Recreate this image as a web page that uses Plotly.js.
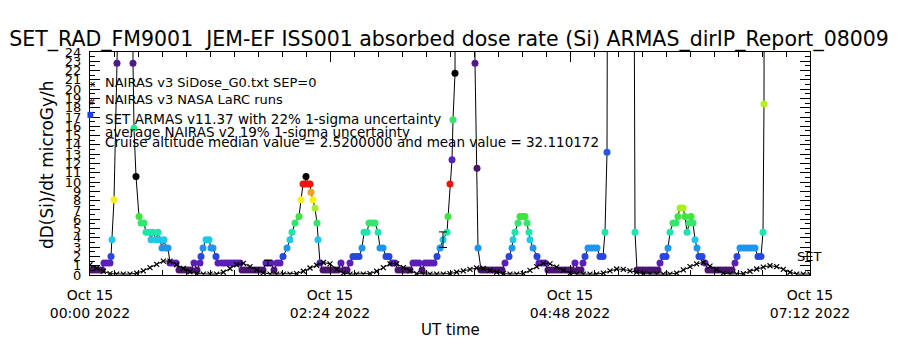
<!DOCTYPE html>
<html><head><meta charset="utf-8">
<script src="https://cdn.plot.ly/plotly-3.0.1.min.js"></script>
<style>html,body{margin:0;padding:0;background:#fff}#chart{width:900px;height:350px}</style>
</head><body><div id="chart"></div>
<script>
// ARMAS dose rate samples: minutes after 2022-10-15 00:00 UT, dose rate (microGy/h)
const armasMinutes = [0,1.8,3.6,5.4,7.2,8.4,10.2,12,12.6,13.2,14.4,16.2,17.1,24.9,25.8,26.4,27.6,29.4,30.6,32.4,33.6,35.4,36.6,37.8,39.6,40.8,42,43.2,44.4,45.6,46.8,48,49.8,51.6,53.4,55.2,57,58.8,60.6,62.4,64.2,66,66.6,67.8,69.6,71.4,72.6,73.8,75.6,76.8,79.2,81,82.8,84.6,86.4,88.2,90,91.2,93,94.8,96.6,98.4,100.2,102,103.8,105.6,106.8,108.6,110.4,112.2,114,115.8,118.2,120,121.2,123,125.4,126.6,127.8,129,129.6,130.8,132,132.6,133.8,135,136.2,136.8,138,139.8,141.6,143.4,145.2,147,148.8,150.6,152.4,154.2,156,157.8,159.6,161.4,163.2,164.4,166.2,167.4,169.2,171,172.8,174,175.8,177.6,179.4,181.2,183,184.8,186.6,188.4,190.2,192,193.8,195.6,197.4,199.2,201,202.8,204.6,206.4,208.2,210,211.8,214.2,214.8,216,217.2,217.8,219,220.2,229.8,231,232.2,232.8,234.6,236.4,238.2,240,241.8,243.6,245.4,247.2,249,251.4,253.2,253.8,255,256.8,258,259.8,261,262.2,263.4,264,265.8,268.2,269.4,271.2,273,274.8,276.6,278.4,280.2,282,283.8,285.6,287.4,289.2,291,292.8,294.6,295.8,297,298.8,300.6,302.4,304.2,306,307.8,309,310.2,311.4,325.2,327,328.2,330,331.8,333.6,335.4,337.2,339,340.8,342,343.8,345.6,346.8,348,349.8,351.6,352.8,354,355.8,357,358.2,359.4,360.6,361.8,363,364.2,365.4,367.2,369,370.8,372.6,374.4,376.2,378,379.8,381.6,383.4,385.2,387,388.2,390,391.8,393.6,395.4,397.2,399,400.8,402.6,403.8,404.4,405];
const armasDose = [0.54,0.54,0.54,0.54,0.54,1.3,1.3,1.3,2.0,3.8,8.1,22.8,100,100,22.8,15.8,10.6,6.3,5.6,5.6,4.6,4.6,3.8,4.6,3.8,4.6,3.8,2.9,3.8,2.9,2.9,1.3,1.3,1.3,0.54,0.54,0.54,0.54,0.54,1.3,0.54,1.3,2.0,2.9,3.8,3.8,2.9,2.9,2.0,1.3,1.3,1.3,1.3,1.3,1.3,1.3,1.3,0.54,0.54,0.54,0.54,0.54,0.54,0.54,0.54,1.3,1.3,1.3,0.54,1.3,1.3,2.0,2.9,3.8,4.6,5.6,6.3,8.1,9.8,9.8,10.6,9.8,9.8,8.9,8.1,7.2,5.6,3.8,1.3,0.54,0.54,0.54,0.54,0.54,0.54,1.3,0.54,0.54,1.3,2.0,2.0,2.0,2.9,4.6,4.6,5.6,5.6,5.6,4.6,2.9,2.9,2.0,2.0,1.3,1.3,0.54,0.54,0.54,0.54,0.54,1.3,1.3,1.3,0.54,1.3,1.3,1.3,1.3,2.0,2.9,3.8,4.6,6.3,9.8,12.4,16.7,21.7,100,100,22.8,11.5,2.9,0.54,0.54,0.54,0.54,0.54,0.54,0.54,0.54,1.3,2.0,2.9,3.8,4.6,5.6,6.3,6.3,6.3,5.6,4.6,3.8,2.9,2.0,1.3,1.3,1.3,0.54,0.54,0.54,0.54,0.54,0.54,0.54,0.54,0.54,1.3,0.54,0.54,1.3,2.0,2.9,2.9,2.9,2.9,2.0,2.0,4.6,13.2,100,100,4.6,0.54,0.54,0.54,0.54,0.54,0.54,0.54,0.54,1.3,2.0,2.0,2.9,4.6,5.6,5.6,6.3,7.2,7.2,6.3,4.6,5.6,6.3,5.6,3.8,2.9,2.0,2.0,1.3,0.54,0.54,0.54,0.54,0.54,0.54,0.54,0.54,0.54,1.3,2.0,2.9,2.9,2.9,2.9,2.9,2.9,2.0,2.0,4.6,18.4,100];

// NAIRAS v3 model (SiDose_G0, SEP=0)
const nairasMinutes = [0,4,8,12,16,20,24,28,32,36,40,44,48,52,56,60,64,68,72,76,80,84,88,92,96,100,104,108,112,116,120,124,128,132,136,140,144,148,152,156,160,164,168,172,176,180,184,188,192,196,200,204,208,212,216,220,224,228,232,236,240,244,248,252,256,260,264,268,272,276,280,284,288,292,296,300,304,308,312,316,320,324,328,332,336,340,344,348,352,356,360,364,368,372,376,380,384,388,392,396,400,404,408,412,416,420,424,428,432];
const nairasDose = [1.1,0.75,0.4,0.15,0.1,0.1,0.1,0.2,0.45,0.8,1.15,1.5,1.5,1.1,0.7,0.35,0.15,0.1,0.1,0.1,0.3,0.7,1.1,1.25,0.9,0.55,0.25,0.1,0.1,0.1,0.1,0.15,0.4,0.75,1.05,1.35,1.2,0.6,0.2,0.1,0.1,0.1,0.15,0.4,0.8,1.2,1.2,0.8,0.45,0.15,0.1,0.1,0.1,0.1,0.15,0.3,0.45,0.6,0.75,0.7,0.5,0.3,0.15,0.1,0.1,0.15,0.5,0.9,1.25,1.2,0.85,0.5,0.2,0.1,0.1,0.1,0.1,0.2,0.45,0.65,0.6,0.45,0.3,0.15,0.1,0.1,0.1,0.1,0.2,0.55,0.9,1.2,1.35,0.95,0.55,0.2,0.1,0.1,0.15,0.4,0.65,0.85,1.0,0.9,0.6,0.3,0.1,0.1,0.1];

// ARMAS samples drawn with their 22% 1-sigma bar
const errMinutes = [106.8, 211.8];
const errDose = [1.3, 3.8];

const tickMinutes = [0, 144, 288, 432];
const tickLabels = ['Oct 15<br>00:00 2022', 'Oct 15<br>02:24 2022', 'Oct 15<br>04:48 2022', 'Oct 15<br>07:12 2022'];

// rainbow colour table, wrapping every 11 units
const cstops = [[0,'#1a0628'],[0.5,'#4a166c'],[1.3,'#5a1eb9'],[2.0,'#2846e0'],[2.9,'#1e96f0'],[3.8,'#1ec8e6'],[4.6,'#1ee6aa'],[5.6,'#32e66e'],[6.3,'#3ce63c'],[7.2,'#a5f01e'],[8.1,'#f5f01e'],[8.9,'#f5a01e'],[9.8,'#f0140a'],[10.3,'#780000'],[10.6,'#000000'],[11,'#000000']];
function hx(h){return [parseInt(h.substr(1,2),16),parseInt(h.substr(3,2),16),parseInt(h.substr(5,2),16)];}
function doseColor(v){
  const m = v % 11;
  for (let i=0;i<cstops.length-1;i++){
    const a=cstops[i], b=cstops[i+1];
    if (m>=a[0] && m<=b[0]){
      const f=(m-a[0])/(b[0]-a[0]); const ca=hx(a[1]), cb=hx(b[1]);
      return 'rgb('+ca.map((c,k)=>Math.round(c+(cb[k]-c)*f)).join(',')+')';
    }
  }
  return '#000';
}

const armas = {x: armasMinutes, y: armasDose, type:'scatter', mode:'lines+markers',
  line:{color:'#000', width:1}, marker:{size:7, color: armasDose.map(doseColor), line:{width:0}}, hoverinfo:'skip'};
const nairas = {x: nairasMinutes, y: nairasDose, type:'scatter', mode:'lines+markers',
  line:{color:'#000', width:1}, marker:{symbol:'x-thin', size:5, line:{width:1.2, color:'#000'}, color:'#000'}, hoverinfo:'skip'};
const errs = {x: errMinutes, y: errDose, type:'scatter', mode:'markers', marker:{size:1, opacity:0},
  error_y:{type:'percent', value:22, color:'#000', thickness:1, width:4}, hoverinfo:'skip'};

const F = 'DejaVu Sans';
const axisCommon = {showline:true, linecolor:'#000', linewidth:1, mirror:'ticks', showgrid:false, zeroline:false,
  ticks:'inside', ticklen:10, tickwidth:1, tickcolor:'#000'};
const layout = {
  width:900, height:350,
  margin:{l:90, r:90, t:52, b:75, pad:0},
  paper_bgcolor:'#fff', plot_bgcolor:'#fff', showlegend:false,
  font:{family:F, color:'#000', size:13},
  title:{text:'SET_RAD_FM9001\u00a0 JEM-EF ISS001 absorbed dose rate (Si) ARMAS_dirIP_Report_08009',
    x:0.499, xanchor:'center', y:1-39/350, yanchor:'middle', font:{family:F, size:20.5, color:'#000'}},
  xaxis: Object.assign({}, axisCommon, {range:[0,432], tickmode:'array', tickvals:tickMinutes, ticktext:tickLabels,
    tickfont:{family:F, size:14, color:'#000'}, ticklabelstandoff:7,
    minor:{tickmode:'linear', tick0:0, dtick:14.4, ticks:'inside', ticklen:5, tickcolor:'#000', showgrid:false}}),
  yaxis: Object.assign({}, axisCommon, {range:[0,24], tickmode:'linear', tick0:0, dtick:1,
    tickfont:{family:F, size:13, color:'#000'}, ticklabelstandoff:5,
    minor:{tickmode:'linear', tick0:0, dtick:0.5, ticks:'inside', ticklen:5, tickcolor:'#000', showgrid:false}}),
  shapes:[
    {type:'rect', xref:'paper', yref:'paper', x0:-0.0035, x1:0.0045, y0:0.7045, y1:0.7315, fillcolor:'#1c3ce8', line:{width:0}}
  ],
  annotations:[
    {text:'dD(Si)/dt microGy/h', xref:'paper', yref:'paper', x:-0.0597, y:0.493, textangle:-90, showarrow:false, xanchor:'center', yanchor:'middle', font:{family:F, size:17, color:'#000'}},
    {text:'UT time', xref:'paper', yref:'paper', x:0.5, y:-0.2466, showarrow:false, xanchor:'center', yanchor:'middle', font:{family:F, size:15, color:'#000'}},
    {text:'x', xref:'paper', yref:'paper', x:0.004, y:0.858, showarrow:false, xanchor:'center', yanchor:'middle', font:{family:F, size:9, color:'#000'}},
    {text:'#', xref:'paper', yref:'paper', x:0.003, y:0.778, showarrow:false, xanchor:'center', yanchor:'middle', font:{family:F, size:9, color:'#000'}},
    {text:'NAIRAS v3 SiDose_G0.txt SEP=0', xref:'paper', yref:'paper', x:0.018, y:0.861, showarrow:false, xanchor:'left', yanchor:'middle', font:{family:F, size:13, color:'#000'}},
    {text:'NAIRAS v3 NASA LaRC runs', xref:'paper', yref:'paper', x:0.018, y:0.785, showarrow:false, xanchor:'left', yanchor:'middle', font:{family:F, size:13, color:'#000'}},
    {text:'SET ARMAS v11.37 with 22% 1-sigma uncertainty', xref:'paper', yref:'paper', x:0.018, y:0.700, showarrow:false, xanchor:'left', yanchor:'middle', font:{family:F, size:13.5, color:'#000'}},
    {text:'average NAIRAS v2 19% 1-sigma uncertainty', xref:'paper', yref:'paper', x:0.018, y:0.641, showarrow:false, xanchor:'left', yanchor:'middle', font:{family:F, size:13.5, color:'#000'}},
    {text:'Cruise altitude median value = 2.5200000 and mean value = 32.110172', xref:'paper', yref:'paper', x:0.018, y:0.598, showarrow:false, xanchor:'left', yanchor:'middle', font:{family:F, size:13.5, color:'#000'}},
    {text:'SET', xref:'paper', yref:'paper', x:0.979, y:0.085, showarrow:false, xanchor:'left', yanchor:'middle', font:{family:F, size:13, color:'#000'}}
  ]
};
Plotly.newPlot('chart', [armas, errs, nairas], layout, {staticPlot:true, displayModeBar:false});
</script></body></html>
